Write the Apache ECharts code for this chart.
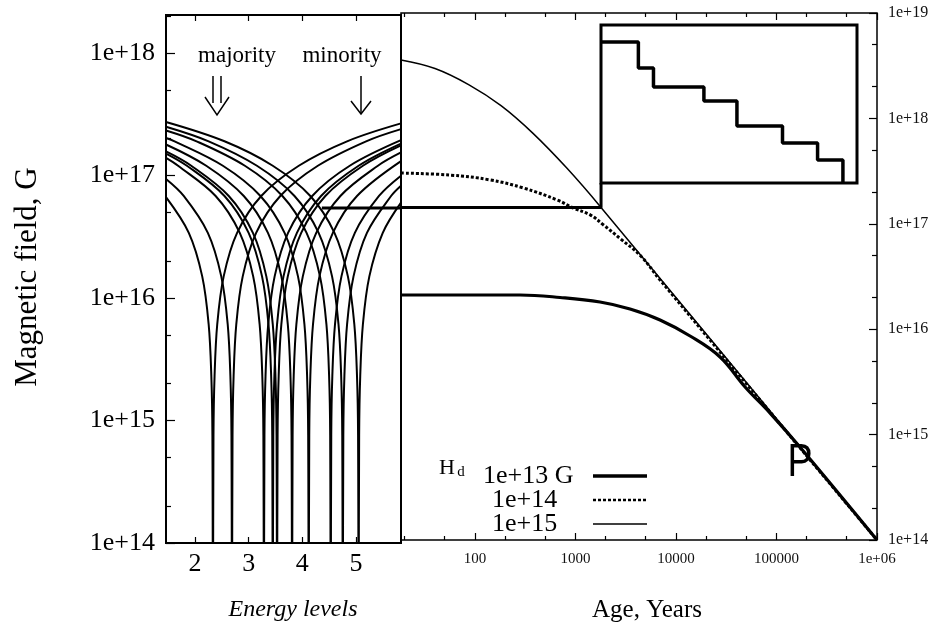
<!DOCTYPE html>
<html>
<head>
<meta charset="utf-8">
<script src="https://cdn.jsdelivr.net/npm/echarts@6/dist/echarts.min.js"></script>
<style>
html, body { margin: 0; padding: 0; background: #fff; }
#contain { width: 944px; height: 625px; }
</style>
</head>
<body>
<div id="contain"></div>
<script>
// left panel: one V per energy level, [energy, field]
const level1 = [[1.46,6.65e16],[1.885,3.4e16],[2.135,1.5e16],[2.255,6.1e15],[2.305,2.3e15],[2.325,7.6e14],[2.335,1e13],[2.345,7.6e14],[2.365,2.3e15],[2.415,6.1e15],[2.535,1.5e16],[2.785,3.4e16],[3.235,6.8e16],[3.935,1.2e17],[4.835,1.9e17],[5.84,2.66e17]];
const level2 = [[1.46,9.35e16],[1.79,6.8e16],[2.24,3.4e16],[2.49,1.5e16],[2.61,6.1e15],[2.66,2.3e15],[2.68,7.6e14],[2.69,1e13],[2.70,7.6e14],[2.72,2.3e15],[2.77,6.1e15],[2.89,1.5e16],[3.14,3.4e16],[3.59,6.8e16],[4.29,1.2e17],[5.19,1.9e17],[5.84,2.39e17]];
const level3 = [[1.46,1.39e17],[1.685,1.2e17],[2.385,6.8e16],[2.835,3.4e16],[3.085,1.5e16],[3.205,6.1e15],[3.255,2.3e15],[3.275,7.6e14],[3.285,1e13],[3.295,7.6e14],[3.315,2.3e15],[3.365,6.1e15],[3.485,1.5e16],[3.735,3.4e16],[4.185,6.8e16],[4.885,1.2e17],[5.84,1.94e17]];
const level4 = [[1.46,1.51e17],[1.85,1.2e17],[2.55,6.8e16],[3.0,3.4e16],[3.25,1.5e16],[3.37,6.1e15],[3.42,2.3e15],[3.44,7.6e14],[3.45,1e13],[3.46,7.6e14],[3.48,2.3e15],[3.53,6.1e15],[3.65,1.5e16],[3.90,3.4e16],[4.35,6.8e16],[5.05,1.2e17],[5.84,1.82e17]];
const level5 = [[1.46,1.57e17],[1.93,1.2e17],[2.63,6.8e16],[3.08,3.4e16],[3.33,1.5e16],[3.45,6.1e15],[3.50,2.3e15],[3.52,7.6e14],[3.53,1e13],[3.54,7.6e14],[3.56,2.3e15],[3.61,6.1e15],[3.73,1.5e16],[3.98,3.4e16],[4.43,6.8e16],[5.13,1.2e17],[5.84,1.76e17]];
const level6 = [[1.46,1.79e17],[2.21,1.2e17],[2.91,6.8e16],[3.36,3.4e16],[3.61,1.5e16],[3.73,6.1e15],[3.78,2.3e15],[3.80,7.6e14],[3.81,1e13],[3.82,7.6e14],[3.84,2.3e15],[3.89,6.1e15],[4.01,1.5e16],[4.26,3.4e16],[4.71,6.8e16],[5.41,1.2e17],[5.84,1.54e17]];
const level7 = [[1.46,2.02e17],[1.62,1.9e17],[2.52,1.2e17],[3.22,6.8e16],[3.67,3.4e16],[3.92,1.5e16],[4.04,6.1e15],[4.09,2.3e15],[4.11,7.6e14],[4.12,1e13],[4.13,7.6e14],[4.15,2.3e15],[4.20,6.1e15],[4.32,1.5e16],[4.57,3.4e16],[5.02,6.8e16],[5.84,1.31e17]];
const level8 = [[1.46,2.33e17],[2.03,1.9e17],[2.93,1.2e17],[3.63,6.8e16],[4.08,3.4e16],[4.33,1.5e16],[4.45,6.1e15],[4.50,2.3e15],[4.52,7.6e14],[4.53,1e13],[4.54,7.6e14],[4.56,2.3e15],[4.61,6.1e15],[4.73,1.5e16],[4.98,3.4e16],[5.43,6.8e16],[5.84,9.96e16]];
const level9 = [[1.46,2.5e17],[2.255,1.9e17],[3.155,1.2e17],[3.855,6.8e16],[4.305,3.4e16],[4.555,1.5e16],[4.675,6.1e15],[4.725,2.3e15],[4.745,7.6e14],[4.755,1e13],[4.765,7.6e14],[4.785,2.3e15],[4.835,6.1e15],[4.955,1.5e16],[5.205,3.4e16],[5.655,6.8e16],[5.84,8.25e16]];
const level10 = [[1.46,2.73e17],[2.55,1.9e17],[3.45,1.2e17],[4.15,6.8e16],[4.6,3.4e16],[4.85,1.5e16],[4.97,6.1e15],[5.02,2.3e15],[5.04,7.6e14],[5.05,1e13],[5.06,7.6e14],[5.08,2.3e15],[5.13,6.1e15],[5.25,1.5e16],[5.5,3.4e16],[5.84,6.0e16]];
const levels = [level1, level2, level3, level4, level5, level6, level7, level8, level9, level10];

// right panel: field decay vs age, [years, field]
const hd13 = [[18.4,2.11e16],[89,2.11e16],[281,2.11e16],[703,2.0e16],[1757,1.81e16],[3494,1.555e16],[6948,1.223e16],[13820,8.62e15],[27480,5.45e15],[48720,2.83e15],[86410,1.6e15],[171800,7.58e14],[1e6,1e14]];
const hd14 = [[18.4,3.03e17],[56.6,2.9e17],[141,2.61e17],[302,2.19e17],[661,1.68e17],[955,1.41e17],[1413,1.21e17],[1905,9.75e16],[2818,7.18e16],[4467,4.95e16],[6948,2.93e16],[1e6,1e14]];
const hd15 = [[18.4,3.58e18],[40.1,2.97e18],[87.4,2.08e18],[181.9,1.32e18],[378.6,7.21e17],[825,3.36e17],[1798,1.43e17],[1e6,1e14]];

// zoom marker joining the two panels and the inset
const cutLeft = [[4.365,5.43e16],[5.84,5.43e16]];
const cutRight = [[18.4,1.43e17],[1798,1.43e17],[1798,2.44e17]];
const insetSteps = [[0,89.2],[14.6,72.8],[20.5,60.8],[40.2,51.9],[53.1,36.1],[70.9,25.3],[84.6,14.6],[94.5,0]];

const energyTicks = [2, 3, 4, 5];
const fieldTicksL = [1e14, 1e15, 1e16, 1e17, 1e18];
const fieldMinorL = [2e14, 5e14, 2e15, 5e15, 2e16, 5e16, 2e17, 5e17, 2e18];
const fieldTicksR = [1e14, 1e15, 1e16, 1e17, 1e18, 1e19];
const fieldMinorR = [2e14, 5e14, 2e15, 5e15, 2e16, 5e16, 2e17, 5e17, 2e18, 5e18];
const ageTicks = [100, 1000, 10000, 100000, 1e6];
const ageMinor = [20, 50, 200, 500, 2000, 5000, 20000, 50000, 200000, 500000];
const legendNames = ['1e+13 G', '1e+14', '1e+15'];
const legendWidths = [3.5, 2.5, 1.5];

const serif = 'Liberation Serif';
const expLabel = v => {
  const e = Math.round(Math.log10(v));
  return '1e+' + (e < 10 ? '0' + e : e);
};

const chart = echarts.init(document.getElementById('contain'), null, { renderer: 'canvas' });

const tick = (vals, len) => ({ show: true, inside: true, length: len, customValues: vals, lineStyle: { color: '#000', width: 1.2 } });
const noLabel = { show: false };
const hidden = { axisLine: { show: false }, splitLine: { show: false } };
const centered = { fill: '#000', align: 'center', verticalAlign: 'middle', textAlign: 'center', textVerticalAlign: 'middle' };

const option = {
  animation: false,
  backgroundColor: '#fff',
  grid: [
    { left: 166, top: 15, width: 235, height: 528, show: true, borderColor: '#000', borderWidth: 2, outerBoundsMode: 'none' },
    { left: 401, top: 13, width: 476, height: 527, show: true, borderColor: '#000', borderWidth: 1.5, outerBoundsMode: 'none' },
    { left: 601, top: 25, width: 256, height: 158, show: true, borderColor: '#000', borderWidth: 3, outerBoundsMode: 'none' }
  ],
  xAxis: [
    { gridIndex: 0, type: 'value', position: 'bottom', min: 1.46, max: 5.84, ...hidden,
      axisTick: tick(energyTicks, 6),
      axisLabel: { customValues: energyTicks, fontFamily: serif, fontSize: 26, color: '#000', margin: 8 } },
    { gridIndex: 0, type: 'value', position: 'top', min: 1.46, max: 5.84, ...hidden,
      axisTick: tick(energyTicks, 6), axisLabel: noLabel },
    { gridIndex: 1, type: 'log', position: 'bottom', min: 18.4, max: 1e6, ...hidden,
      axisTick: tick(ageTicks, 7),
      axisLabel: { customValues: ageTicks, formatter: v => v < 1e6 ? String(Math.round(v)) : expLabel(v),
        fontFamily: serif, fontSize: 15, color: '#111', margin: 12 } },
    { gridIndex: 1, type: 'log', position: 'bottom', min: 18.4, max: 1e6, ...hidden,
      axisTick: tick(ageMinor, 4), axisLabel: noLabel },
    { gridIndex: 1, type: 'log', position: 'top', min: 18.4, max: 1e6, ...hidden,
      axisTick: tick(ageTicks, 7), axisLabel: noLabel },
    { gridIndex: 1, type: 'log', position: 'top', min: 18.4, max: 1e6, ...hidden,
      axisTick: tick(ageMinor, 4), axisLabel: noLabel },
    { gridIndex: 2, type: 'value', min: 0, max: 100, show: false }
  ],
  yAxis: [
    { gridIndex: 0, type: 'log', position: 'left', min: 1e14, max: 2.04e18, ...hidden,
      axisTick: tick(fieldTicksL, 9),
      axisLabel: { customValues: fieldTicksL, formatter: expLabel, fontFamily: serif, fontSize: 26, color: '#000', margin: 11 } },
    { gridIndex: 0, type: 'log', position: 'left', min: 1e14, max: 2.04e18, ...hidden,
      axisTick: tick(fieldMinorL, 5), axisLabel: noLabel },
    { gridIndex: 1, type: 'log', position: 'right', min: 1e14, max: 1e19, ...hidden,
      axisTick: tick(fieldTicksR, 8),
      axisLabel: { customValues: fieldTicksR, formatter: expLabel, fontFamily: serif, fontSize: 16, color: '#111', margin: 11 } },
    { gridIndex: 1, type: 'log', position: 'right', min: 1e14, max: 1e19, ...hidden,
      axisTick: tick(fieldMinorR, 5), axisLabel: noLabel },
    { gridIndex: 2, type: 'value', min: 0, max: 100, show: false }
  ],
  legend: {
    data: legendNames.map((n, i) => ({ name: n, lineStyle: { width: legendWidths[i] } })),
    orient: 'vertical',
    left: 478,
    top: 458,
    align: 'right',
    itemGap: -2,
    itemWidth: 54,
    itemHeight: 14,
    selectedMode: false,
    itemStyle: { opacity: 0 },
    formatter: name => name === legendNames[0] ? '{a|' + name + '}' : '{b|' + name + '}',
    textStyle: { rich: {
      a: { fontFamily: serif, fontSize: 26, lineHeight: 23, width: 105, align: 'left', color: '#000' },
      b: { fontFamily: serif, fontSize: 26, lineHeight: 23, width: 96, padding: [0, 0, 0, 9], align: 'left', color: '#000' }
    } }
  },
  graphic: [
    { type: 'text', x: 28, y: 277, rotation: Math.PI / 2,
      style: { text: 'Magnetic field, G', font: '31px "Liberation Serif"', ...centered } },
    { type: 'text', x: 293, y: 610, style: { text: 'Energy levels', font: 'italic 24px "Liberation Serif"', ...centered } },
    { type: 'text', x: 647, y: 610, style: { text: 'Age, Years', font: '25px "Liberation Serif"', ...centered } },
    { type: 'text', x: 237, y: 56, style: { text: 'majority', font: '23px "Liberation Serif"', ...centered } },
    { type: 'text', x: 342, y: 56, style: { text: 'minority', font: '23px "Liberation Serif"', ...centered } },
    { type: 'text', x: 447, y: 468, style: { text: 'H', font: '22px "Liberation Serif"', ...centered } },
    { type: 'text', x: 461, y: 472, style: { text: 'd', font: '15px "Liberation Serif"', ...centered } },
    { type: 'text', x: 800, y: 463, scaleX: 0.8, style: { text: 'P', font: '47px "Liberation Sans"', ...centered } },
    // double arrow over "majority"
    { type: 'polyline', shape: { points: [[213, 76], [213, 103]] }, style: { stroke: '#000', lineWidth: 1.5, fill: null } },
    { type: 'polyline', shape: { points: [[221, 76], [221, 103]] }, style: { stroke: '#000', lineWidth: 1.5, fill: null } },
    { type: 'polyline', shape: { points: [[205, 97], [217, 115], [229, 97]] }, style: { stroke: '#000', lineWidth: 1.5, fill: null } },
    // single arrow over "minority"
    { type: 'polyline', shape: { points: [[361, 76], [361, 113]] }, style: { stroke: '#000', lineWidth: 1.5, fill: null } },
    { type: 'polyline', shape: { points: [[351, 101], [361, 114], [371, 101]] }, style: { stroke: '#000', lineWidth: 1.5, fill: null } }
  ],
  series: [
    ...levels.map((d, i) => ({
      name: 'level' + (i + 1), type: 'line', xAxisIndex: 0, yAxisIndex: 0, data: d,
      smooth: 0.35, symbol: 'none', silent: true,
      lineStyle: { color: '#000', width: 2 }
    })),
    { name: 'cutL', type: 'line', xAxisIndex: 0, yAxisIndex: 0, data: cutLeft, symbol: 'none', silent: true,
      lineStyle: { color: '#000', width: 3 } },
    { name: legendNames[0], type: 'line', xAxisIndex: 2, yAxisIndex: 2, data: hd13, smooth: 0.4, symbol: 'none',
      color: '#000', lineStyle: { color: '#000', width: 3.2 } },
    { name: legendNames[1], type: 'line', xAxisIndex: 2, yAxisIndex: 2, data: hd14, smooth: 0.4, symbol: 'none',
      color: '#000', lineStyle: { color: '#000', width: 3, type: [3, 2] } },
    { name: legendNames[2], type: 'line', xAxisIndex: 2, yAxisIndex: 2, data: hd15, smooth: 0.4, symbol: 'none',
      color: '#000', lineStyle: { color: '#000', width: 1.5 } },
    { name: 'cutR', type: 'line', xAxisIndex: 2, yAxisIndex: 2, data: cutRight, symbol: 'none', silent: true,
      lineStyle: { color: '#000', width: 3 } },
    { name: 'inset', type: 'line', xAxisIndex: 6, yAxisIndex: 4, data: insetSteps, step: 'end', symbol: 'none', silent: true,
      lineStyle: { color: '#000', width: 3.5 } }
  ]
};

chart.setOption(option);
</script>
</body>
</html>
